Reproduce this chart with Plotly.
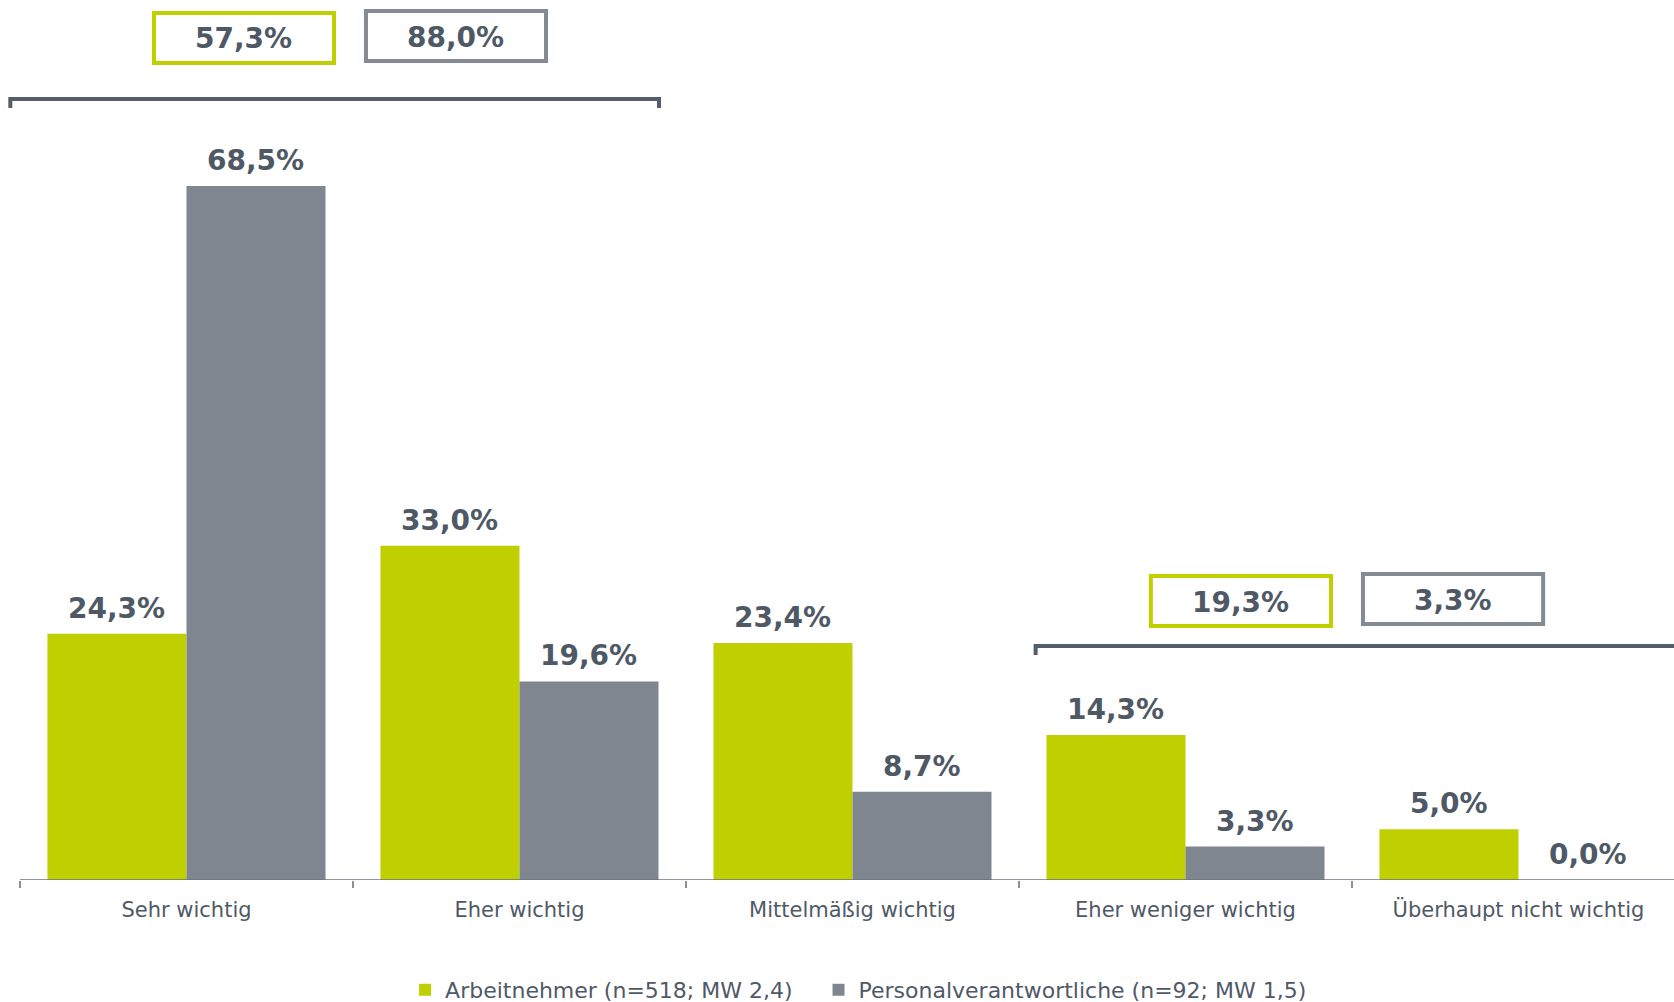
import plotly.graph_objects as go

# ---- data ----
categories = ["Sehr wichtig", "Eher wichtig", "Mittelmäßig wichtig",
              "Eher weniger wichtig", "Überhaupt nicht wichtig"]
series_names = ["Arbeitnehmer (n=518; MW 2,4)",
                "Personalverantwortliche (n=92; MW 1,5)"]
arbeitnehmer = [24.3, 33.0, 23.4, 14.3, 5.0]
personal = [68.5, 19.6, 8.7, 3.3, 0.0]
top_summary = ["57,3%", "88,0%"]      # Sehr + Eher wichtig
bottom_summary = ["19,3%", "3,3%"]    # Eher weniger + Überhaupt nicht wichtig

GREEN = "#bfcf00"
GRAY = "#80868f"
GRAY_BORDER = "#848b94"
TEXT = "#4f5966"
BRACKET = "#535e6a"
FONT = "DejaVu Sans"

def fmt(v):
    return f"{v:.1f}".replace(".", ",") + "%"

fig = go.Figure()
fig.add_trace(go.Bar(x=list(range(len(categories))), y=arbeitnehmer,
                     name=series_names[0] + "\u00a0\u00a0\u00a0",
                     marker=dict(color=GREEN, line=dict(width=0))))
fig.add_trace(go.Bar(x=list(range(len(categories))), y=personal,
                     name=series_names[1], marker=dict(color=GRAY, line=dict(width=0))))

annotations = []
half = 0.2087
for i, (a, p) in enumerate(zip(arbeitnehmer, personal)):
    for xv, v in ((i - half, a), (i + half, p)):
        annotations.append(dict(x=xv, y=v, xref="x", yref="y", text=fmt(v),
                                showarrow=False, yanchor="bottom", yshift=7,
                                font=dict(family=FONT, size=28, color=TEXT, weight="bold")))

shapes = []
# summary boxes (x0, x1, y0, y1, color, text)
boxes = [
    (-0.1036, 0.449, 80.45, 85.78, GREEN, top_summary[0]),
    (0.533, 1.0856, 80.64, 85.97, GRAY_BORDER, top_summary[1]),
    (2.890, 3.443, 24.87, 30.20, GREEN, bottom_summary[0]),
    (3.527, 4.080, 25.07, 30.40, GRAY_BORDER, bottom_summary[1]),
]
for x0, x1, y0, y1, col, txt in boxes:
    shapes.append(dict(type="rect", xref="x", yref="y", x0=x0 + 0.006, x1=x1 - 0.006,
                       y0=y0 + 0.2, y1=y1 - 0.2, line=dict(color=col, width=4),
                       fillcolor="white"))
    annotations.append(dict(x=(x0 + x1) / 2, y=(y0 + y1) / 2, xref="x", yref="y",
                            text=txt, showarrow=False, yanchor="middle", yshift=-1,
                            font=dict(family=FONT, size=28, color=TEXT, weight="bold")))

# brackets
shapes.append(dict(type="path", xref="x", yref="y",
                   path="M -0.529,76.2 L -0.529,77.1 L 1.419,77.1 L 1.419,76.2",
                   line=dict(color=BRACKET, width=4)))
shapes.append(dict(type="path", xref="x", yref="y",
                   path="M 2.550,22.2 L 2.550,23.1 L 4.7,23.1",
                   line=dict(color=BRACKET, width=4)))
# baseline
shapes.append(dict(type="line", xref="x", yref="y", x0=-0.5, x1=4.7, y0=0, y1=0,
                   line=dict(color="#6a737d", width=1.5), layer="above"))

fig.update_layout(
    width=1674, height=1002,
    margin=dict(l=0, r=0, t=0, b=122),
    paper_bgcolor="white", plot_bgcolor="white",
    barmode="group", bargap=0.165, bargroupgap=0,
    font=dict(family=FONT, color=TEXT),
    showlegend=True,
    legend=dict(orientation="h", x=0.242, xanchor="left", yref="container",
                y=0.012, yanchor="middle",
                font=dict(family=FONT, size=22, color=TEXT),
                itemclick=False),
    annotations=annotations,
    shapes=shapes,
)
fig.update_xaxes(
    type="linear", range=[-0.560, 4.467],
    tickmode="array", tickvals=list(range(len(categories))), ticktext=categories,
    ticks="", showline=False, showgrid=False, zeroline=False,
    tickfont=dict(family=FONT, size=21, color=TEXT),
    ticklabelstandoff=15,
)
# boundary tick marks drawn via minor ticks
fig.update_xaxes(minor=dict(tickmode="array", tickvals=[i - 0.5 for i in range(len(categories) + 1)],
                            ticks="outside", ticklen=7, tickcolor="#8a9099", tickwidth=1.5,
                            showgrid=False))
fig.update_yaxes(range=[0, 86.86], visible=False, showgrid=False, zeroline=False)

fig.write_html("out.html", config={"displayModeBar": False},
               post_script="document.body.style.margin='0';document.body.style.overflow='hidden';")
